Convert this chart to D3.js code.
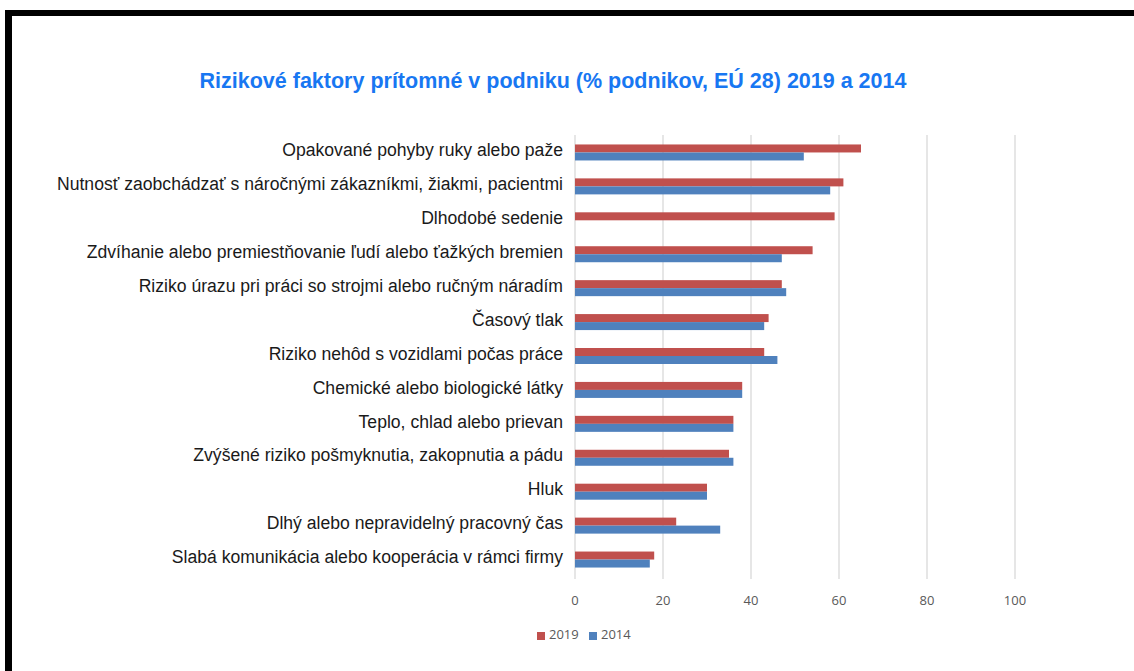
<!DOCTYPE html>
<html>
<head>
<meta charset="utf-8">
<script src="https://cdn.jsdelivr.net/npm/d3@7"></script>
<style>
  body { margin: 0; background: #fff; }
  svg { display: block; }
</style>
</head>
<body>
<svg id="chart"></svg>
<script>
const categories = [
  'Opakované pohyby ruky alebo paže',
  'Nutnosť zaobchádzať s náročnými zákazníkmi, žiakmi, pacientmi',
  'Dlhodobé sedenie',
  'Zdvíhanie alebo premiestňovanie ľudí alebo ťažkých bremien',
  'Riziko úrazu pri práci so strojmi alebo ručným náradím',
  'Časový tlak',
  'Riziko nehôd s vozidlami počas práce',
  'Chemické alebo biologické látky',
  'Teplo, chlad alebo prievan',
  'Zvýšené riziko pošmyknutia, zakopnutia a pádu',
  'Hluk',
  'Dlhý alebo nepravidelný pracovný čas',
  'Slabá komunikácia alebo kooperácia v rámci firmy'
]
const values2019 = [65, 61, 59, 54, 47, 44, 43, 38, 36, 35, 30, 23, 18]
const values2014 = [52, 58, null, 47, 48, 43, 46, 38, 36, 36, 30, 33, 17]
const seriesNames = ['2019', '2014']
const xTicks = [0, 20, 40, 60, 80, 100]

const width = 1134
const height = 671
const colors = { '2019': '#C0504D', '2014': '#4F81BD' }

const svg = d3.select('#chart')
  .attr('width', width)
  .attr('height', height)

// frame (top and left thick black border)
svg.append('rect').attr('x', 5).attr('y', 10).attr('width', width - 5).attr('height', 6).attr('fill', '#000')
svg.append('rect').attr('x', 5).attr('y', 10).attr('width', 7).attr('height', height - 10).attr('fill', '#000')

svg.append('text')
  .attr('x', 553)
  .attr('y', 88)
  .attr('text-anchor', 'middle')
  .style('font-family', 'Liberation Sans, Arial, sans-serif')
  .style('font-weight', 'bold')
  .style('font-size', '21.5px')
  .attr('fill', '#1877F2')
  .text('Rizikové faktory prítomné v podniku (% podnikov, EÚ 28) 2019 a 2014')

const x = d3.scaleLinear().domain([0, 100]).range([575, 1015])
const y = d3.scaleBand().domain(categories).range([135.5, 576.5])
const ySub = d3.scaleBand().domain(seriesNames).range([0, 16])

// gridlines
svg.append('g')
  .selectAll('line')
  .data(xTicks)
  .enter().append('line')
  .attr('x1', d => x(d))
  .attr('x2', d => x(d))
  .attr('y1', 135)
  .attr('y2', 579)
  .attr('stroke', '#d9d9d9')
  .attr('stroke-width', 1.3)

// tick labels
svg.append('g')
  .selectAll('text')
  .data(xTicks)
  .enter().append('text')
  .attr('x', d => x(d))
  .attr('y', 605)
  .attr('text-anchor', 'middle')
  .style('font-family', 'Open Sans, sans-serif')
  .style('font-size', '13px')
  .attr('fill', '#595959')
  .text(d => d)

// category labels
svg.append('g')
  .selectAll('text')
  .data(categories)
  .enter().append('text')
  .attr('x', 563)
  .attr('y', d => y(d) + y.bandwidth() / 2 - 1)
  .attr('text-anchor', 'end')
  .attr('dominant-baseline', 'middle')
  .style('font-family', 'Liberation Sans, Arial, sans-serif')
  .style('font-size', '17.6px')
  .attr('fill', '#1a1a1a')
  .text(d => d)

// bars
const rows = categories.map((c, i) => ({ cat: c, '2019': values2019[i], '2014': values2014[i] }))
const groups = svg.append('g')
  .selectAll('g')
  .data(rows)
  .enter().append('g')
  .attr('transform', d => `translate(0,${y(d.cat) + (y.bandwidth() - 16) / 2})`)

groups.selectAll('rect')
  .data(d => seriesNames.filter(s => d[s] != null).map(s => ({ key: s, value: d[s] })))
  .enter().append('rect')
  .attr('x', x(0))
  .attr('y', d => ySub(d.key))
  .attr('width', d => x(d.value) - x(0))
  .attr('height', ySub.bandwidth())
  .attr('fill', d => colors[d.key])

// legend
const legend = svg.append('g').attr('transform', 'translate(537,636)')
const items = legend.selectAll('g')
  .data(seriesNames)
  .enter().append('g')
  .attr('transform', (d, i) => `translate(${i * 52},0)`)
items.append('rect')
  .attr('x', 0).attr('y', -4)
  .attr('width', 8).attr('height', 8)
  .attr('fill', d => colors[d])
items.append('text')
  .attr('x', 12)
  .attr('y', 0)
  .attr('dominant-baseline', 'middle')
  .style('font-family', 'Open Sans, sans-serif')
  .style('font-size', '13px')
  .attr('fill', '#595959')
  .text(d => d)
</script>
</body>
</html>
